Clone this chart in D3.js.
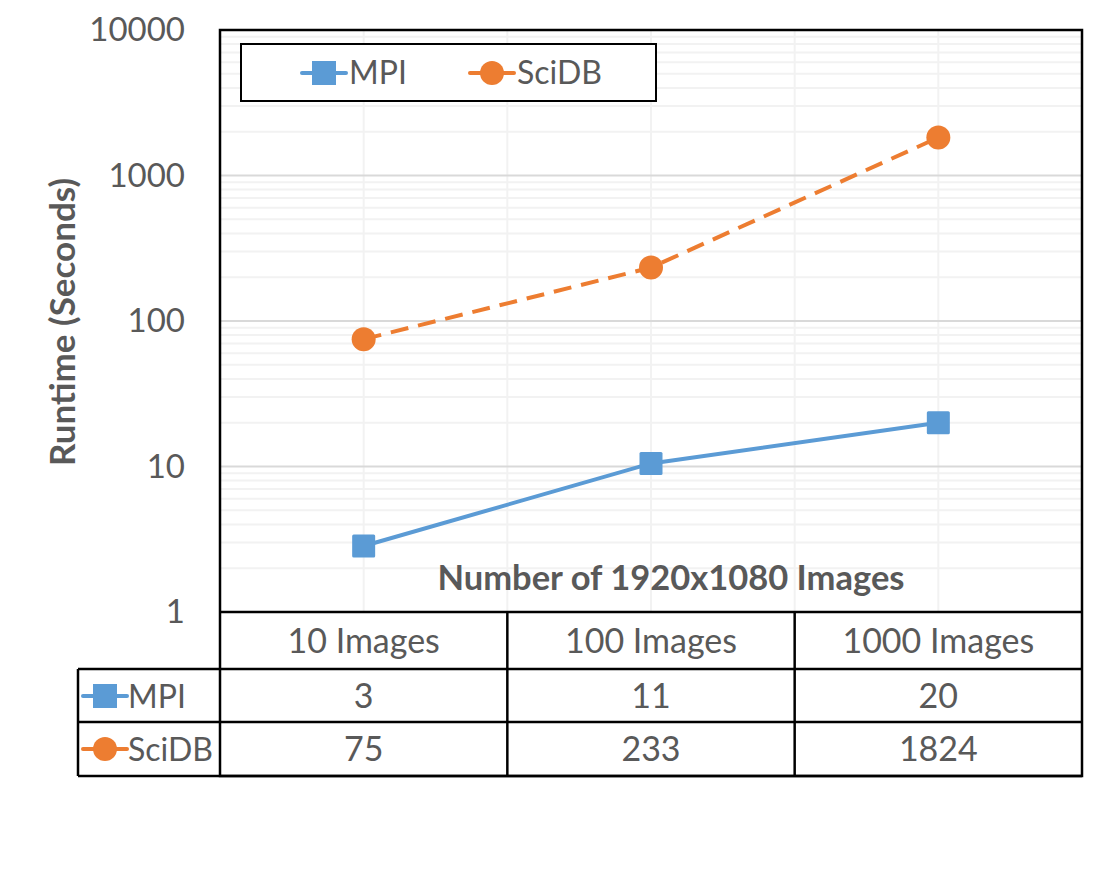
<!DOCTYPE html>
<html><head><meta charset="utf-8">
<script src="https://cdn.jsdelivr.net/npm/d3@7"></script>
<style>body{margin:0;background:#fff}svg{display:block}text{font-family:Lato,"Liberation Sans",sans-serif;fill:#595959}</style>
</head><body><svg id="c" width="1097" height="875"></svg>
<script>
const categories = ["10 Images", "100 Images", "1000 Images"];
const seriesNames = ["MPI", "SciDB"];
const mpiValues = [2.84, 10.5, 20];
const scidbValues = [75, 233, 1824];
const mpiTable = ["3", "11", "20"];
const scidbTable = ["75", "233", "1824"];
const yTicks = [1, 10, 100, 1000, 10000];
const yTitle = "Runtime (Seconds)";
const xTitle = "Number of 1920x1080 Images";

const blue = "#5B9BD5", orange = "#ED7D31";
const svg = d3.select("#c");
const L = 220, R = 1082, T = 30, B = 612;
const x = d3.scaleBand().domain(categories).range([L, R]);
const y = d3.scaleLog().domain([1, 10000]).range([B, T]);
const cx = d => x(d) + x.bandwidth() / 2;

// minor gridlines
const minors = [];
for (let p = 1; p < 10000; p *= 10) for (let k = 2; k <= 9; k++) minors.push(p * k);
svg.append("g").selectAll("line").data(minors).join("line")
  .attr("x1", L).attr("x2", R).attr("y1", d => y(d)).attr("y2", d => y(d))
  .attr("stroke", "#f2f2f2").attr("stroke-width", 2);
// vertical gridlines
const vx = [];
categories.forEach((c, i) => { vx.push(cx(c)); if (i > 0) vx.push(x(c)); });
svg.append("g").selectAll("line").data(vx).join("line")
  .attr("x1", d => d).attr("x2", d => d).attr("y1", T).attr("y2", B)
  .attr("stroke", "#f2f2f2").attr("stroke-width", 2);
// major gridlines
svg.append("g").selectAll("line").data(yTicks.slice(1, -1)).join("line")
  .attr("x1", L).attr("x2", R).attr("y1", d => y(d)).attr("y2", d => y(d))
  .attr("stroke", "#d9d9d9").attr("stroke-width", 2);

// y axis labels
const yAxis = d3.axisLeft(y).tickValues(yTicks).tickFormat(d3.format("d")).tickSize(0).tickPadding(35);
const ga = svg.append("g").attr("transform", `translate(${L},0)`).call(yAxis);
ga.select(".domain").remove();
ga.selectAll("text").style("font-size", "33px").attr("fill", "#595959").attr("font-family", "Lato");

svg.append("text").attr("transform", `translate(75,${(T + B) / 2 + 1}) rotate(-90)`)
  .attr("text-anchor", "middle").style("font-size", "35px").style("font-weight", "bold").text(yTitle);
svg.append("text").attr("x", (L + R) / 2 + 20).attr("y", 590).attr("text-anchor", "middle")
  .style("font-size", "34.5px").style("font-weight", "bold").text(xTitle);

// lines
const line = d3.line().x(d => cx(d.c)).y(d => y(d.v));
const mpiData = categories.map((c, i) => ({ c, v: mpiValues[i] }));
const sciData = categories.map((c, i) => ({ c, v: scidbValues[i] }));
svg.append("path").datum(sciData).attr("d", line).attr("fill", "none")
  .attr("stroke", orange).attr("stroke-width", 4).attr("stroke-dasharray", "18,10");
svg.append("path").datum(mpiData).attr("d", line).attr("fill", "none")
  .attr("stroke", blue).attr("stroke-width", 4);
svg.append("g").selectAll("rect").data(mpiData).join("rect")
  .attr("x", d => cx(d.c) - 11.5).attr("y", d => y(d.v) - 11.5).attr("width", 23).attr("height", 23)
  .attr("rx", 1.5).attr("fill", blue);
svg.append("g").selectAll("circle").data(sciData).join("circle")
  .attr("cx", d => cx(d.c)).attr("cy", d => y(d.v)).attr("r", 12).attr("fill", orange);

// legend symbols helper
function sym(g, xs, yc, i) {
  const col = i === 0 ? blue : orange;
  g.append("line").attr("x1", xs).attr("x2", xs + 44).attr("y1", yc).attr("y2", yc)
    .attr("stroke", col).attr("stroke-width", 4).attr("stroke-linecap", "round");
  if (i === 0) g.append("rect").attr("x", xs + 10).attr("y", yc - 12).attr("width", 24).attr("height", 24).attr("fill", col);
  else g.append("circle").attr("cx", xs + 22).attr("cy", yc).attr("r", 12).attr("fill", col);
}

// legend
svg.append("rect").attr("x", 241).attr("y", 44).attr("width", 415).attr("height", 57)
  .attr("fill", "#fff").attr("stroke", "#000").attr("stroke-width", 2);
const lg = svg.append("g");
[302, 470].forEach((lx, i) => {
  sym(lg, lx, 73, i);
  lg.append("text").attr("x", lx + 47).attr("y", 84).style("font-size", "32px").text(seriesNames[i]);
});

// frame and table
const rows = [B, 669, 722, 776];
const tb = svg.append("g").attr("stroke", "#000").attr("stroke-width", 2.5).attr("fill", "none");
tb.append("rect").attr("x", L).attr("y", T).attr("width", R - L).attr("height", rows[3] - T);
tb.append("line").attr("x1", L).attr("x2", R).attr("y1", B).attr("y2", B);
tb.append("line").attr("x1", 78).attr("x2", R).attr("y1", rows[1]).attr("y2", rows[1]);
tb.append("line").attr("x1", 78).attr("x2", R).attr("y1", rows[2]).attr("y2", rows[2]);
tb.append("line").attr("x1", 78).attr("x2", R).attr("y1", rows[3]).attr("y2", rows[3]);
tb.append("line").attr("x1", 78).attr("x2", 78).attr("y1", rows[1]).attr("y2", rows[3]);
categories.slice(1).forEach(c => tb.append("line").attr("x1", x(c)).attr("x2", x(c)).attr("y1", B).attr("y2", rows[3]));

const tt = svg.append("g").style("font-size", "34px").attr("text-anchor", "middle");
categories.forEach((c, i) => {
  tt.append("text").attr("x", cx(c)).attr("y", 653).text(c);
  tt.append("text").attr("x", cx(c)).attr("y", 708).text(mpiTable[i]);
  tt.append("text").attr("x", cx(c)).attr("y", 761).text(scidbTable[i]);
});
const rl = svg.append("g");
[[696, 0], [749, 1]].forEach(([ry, i]) => {
  sym(rl, 83, ry, i);
  rl.append("text").attr("x", 128).attr("y", ry + 12).style("font-size", "32px").text(seriesNames[i]);
});
</script></body></html>
